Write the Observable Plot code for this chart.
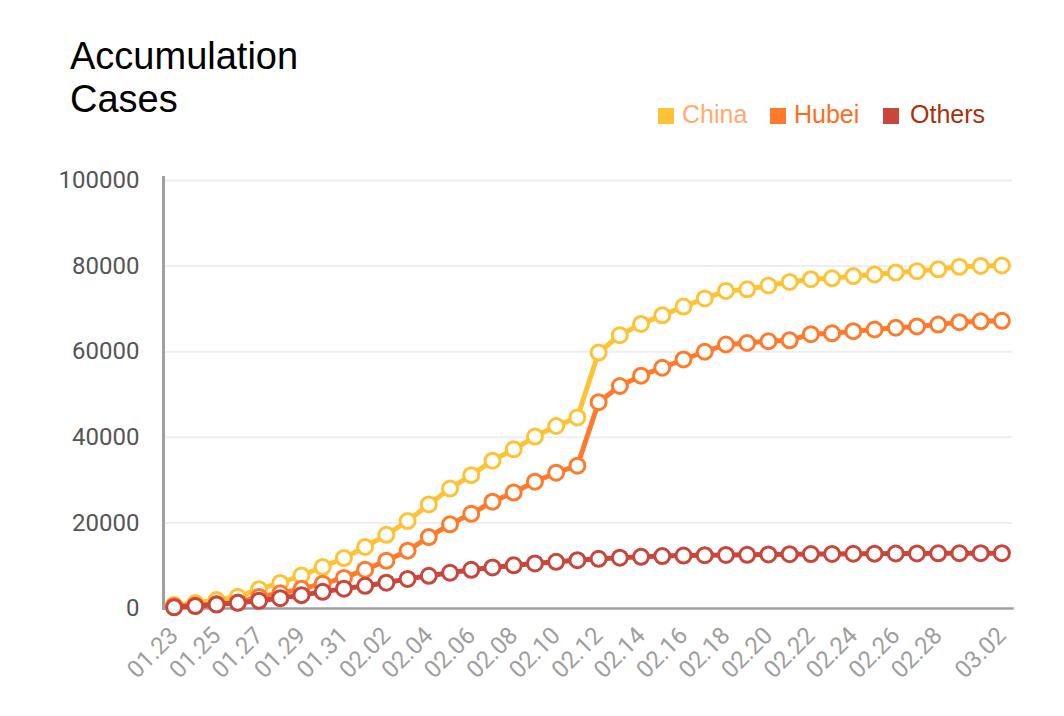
<!DOCTYPE html>
<html>
<head>
<meta charset="utf-8">
<script src="https://cdn.jsdelivr.net/npm/d3@7"></script>
<script src="https://cdn.jsdelivr.net/npm/@observablehq/plot@0.6"></script>
<style>
  html, body { margin: 0; padding: 0; background: #fff; }
  #wrap { position: relative; width: 1064px; }
  #header { position: relative; width: 1064px; height: 140px; }
  #title { position: absolute; left: 70px; top: 35px; font: 38px/43px "Liberation Sans", Arial, sans-serif; color: #000; }
  .leg { position: absolute; top: 102px; font: 25px/25px "Liberation Sans", Arial, sans-serif; white-space: nowrap; }
  .sw { position: absolute; width: 16px; height: 16px; top: 108px; }
</style>
</head>
<body>
<div id="wrap">
  <div id="header">
    <div id="title">Accumulation<br>Cases</div>
  </div>
  <div id="chart"></div>
</div>
<script>
const dates = ["01.23","01.24","01.25","01.26","01.27","01.28","01.29","01.30","01.31",
  "02.01","02.02","02.03","02.04","02.05","02.06","02.07","02.08","02.09","02.10",
  "02.11","02.12","02.13","02.14","02.15","02.16","02.17","02.18","02.19","02.20",
  "02.21","02.22","02.23","02.24","02.25","02.26","02.27","02.28","02.29","03.01","03.02"];
const china = [830,1287,1975,2744,4515,5974,7711,9692,11791,
  14380,17205,20438,24324,28018,31161,34546,37198,40171,42638,
  44653,59804,63851,66492,68500,70548,72436,74185,74576,75465,
  76288,76936,77150,77658,78064,78497,78824,79251,79824,80026,80151];
const hubei = [549,729,1052,1423,2714,3554,4586,5806,7153,
  9074,11177,13522,16678,19665,22112,24953,27100,29631,31728,
  33366,48206,51986,54406,56249,58182,59989,61682,62031,62442,
  62662,64084,64287,64786,65187,65596,65914,66337,66907,67103,67217];
const others = [281,558,923,1321,1801,2420,3125,3886,4638,
  5306,6028,6916,7646,8353,9049,9593,10098,10540,10910,
  11287,11598,11865,12086,12251,12366,12447,12503,12545,12620,
  12680,12720,12760,12790,12820,12850,12870,12890,12910,12925,12934];
const xTicks = ["01.23","01.25","01.27","01.29","01.31","02.02","02.04","02.06","02.08",
  "02.10","02.12","02.14","02.16","02.18","02.20","02.22","02.24","02.26","02.28","03.02"];
const yTicks = [0,20000,40000,60000,80000,100000];
const seriesNames = ["China","Hubei","Others"];
const lineColors = ["#fec235","#ff7a2b","#c8463b"];
const legendText = ["#ffab6e","#ff6c1e","#a8300e"];
const legendSwatchX = [658, 770, 883];
const legendTextX = [682, 794, 910];

const seriesValues = [china, hubei, others];
const tables = seriesValues.map((vals, s) => dates.map((d, i) => ({date: d, value: vals[i], series: seriesNames[s]})));

const header = document.getElementById("header");
seriesNames.forEach((n, s) => {
  const sw = document.createElement("div");
  sw.className = "sw";
  sw.style.left = legendSwatchX[s] + "px";
  sw.style.background = lineColors[s];
  header.appendChild(sw);
  const t = document.createElement("div");
  t.className = "leg";
  t.style.left = legendTextX[s] + "px";
  t.style.color = legendText[s];
  t.textContent = n;
  header.appendChild(t);
});

const marks = [
  Plot.gridY(yTicks.filter(d => d > 0), {stroke: "#eeeeee", strokeOpacity: 1, strokeWidth: 2}),
  Plot.axisY(yTicks, {tickSize: 0, tickPadding: 24, fontSize: 24, fill: "#555", tickFormat: d3.format("d")}),
  Plot.axisX(xTicks, {tickSize: 0, tickPadding: 23, tickRotate: -45, fontSize: 24, fill: "#9e9e9e", dx: 0}),
  Plot.frame({anchor: "left", stroke: "#a0a0a0", strokeWidth: 3, insetTop: -3}),
  Plot.frame({anchor: "bottom", stroke: "#a0a0a0", strokeWidth: 2.5})
];
tables.forEach((tb, s) => {
  marks.push(Plot.line(tb, {x: "date", y: "value", stroke: lineColors[s], strokeWidth: 5}));
  marks.push(Plot.dot(tb, {x: "date", y: "value", r: 7.5, fill: "#fff", stroke: lineColors[s], strokeWidth: 3}));
});

const plot = Plot.plot({
  width: 1064,
  height: 576,
  marginLeft: 163,
  marginRight: 52,
  marginTop: 40,
  marginBottom: 108,
  style: {fontFamily: "Roboto, sans-serif", background: "#fff", overflow: "visible"},
  x: {type: "point", domain: dates, padding: 0.5, round: false, label: null},
  y: {domain: [0, 100000], label: null},
  marks
});
document.getElementById("chart").appendChild(plot);
</script>
</body>
</html>
